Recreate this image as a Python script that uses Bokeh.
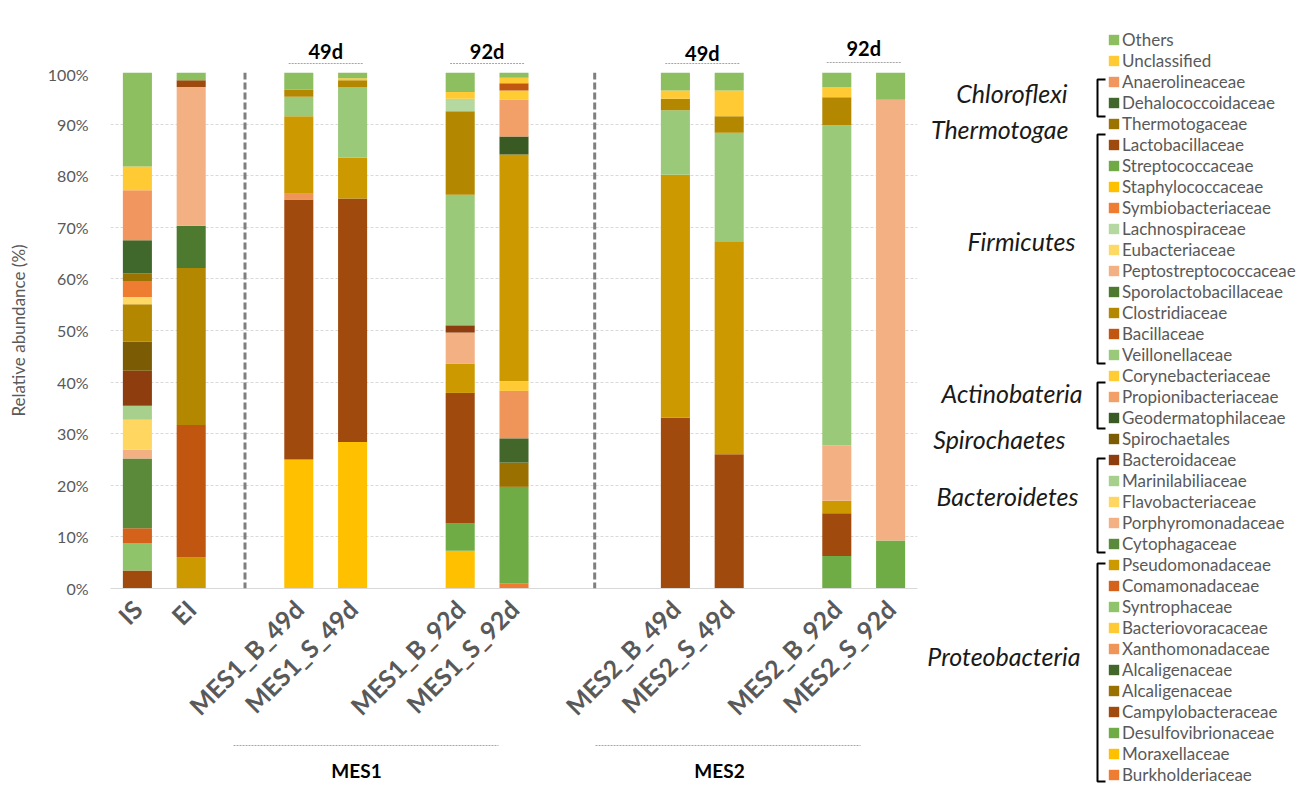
import math
from bokeh.plotting import figure
from bokeh.layouts import row, column
from bokeh.models import (ColumnDataSource, FactorRange, Range1d, FixedTicker, Legend,
                          LegendItem, Span)
from bokeh.core.properties import value
from bokeh.embed import file_html
from bokeh.resources import INLINE

# ---------------- data ----------------
samples = ["IS", "EI", "MES1_B_49d", "MES1_S_49d", "MES1_B_92d", "MES1_S_92d",
           "MES2_B_49d", "MES2_S_49d", "MES2_B_92d", "MES2_S_92d"]

# category slots on the x axis (blank strings are empty spacer slots)
slots = ["IS", "EI", " ", "MES1_B_49d", "MES1_S_49d", "  ", "MES1_B_92d", "MES1_S_92d",
         "   ", "    ", "MES2_B_49d", "MES2_S_49d", "     ", "MES2_B_92d", "MES2_S_92d"]

y_ticks = [0, 10, 20, 30, 40, 50, 60, 70, 80, 90, 100]
y_tick_labels = ["0%", "10%", "20%", "30%", "40%", "50%", "60%", "70%", "80%", "90%", "100%"]

# relative abundance (%) per sample, in the order of `samples`
others                = [18.2, 1.5, 3.3, 1.1, 3.8, 1.0, 3.5, 3.5, 2.8, 5.3]
unclassified          = [4.6, 0, 0, 0.4, 1.3, 1.1, 1.6, 5.0, 2.0, 0]
anaerolineaceae       = [9.7, 0, 0, 0, 0, 0, 0, 0, 0, 0]
dehalococcoidaceae    = [6.4, 0, 0, 0, 0, 0, 0, 0, 0, 0]
thermotogaceae        = [1.5, 0, 0, 0, 0, 0, 0, 0, 0, 0]
lactobacillaceae      = [0, 1.3, 0, 0, 0, 0, 0, 0, 0, 0]
streptococcaceae      = [0, 0, 0, 0, 0, 0, 0, 0, 0, 0]
staphylococcaceae     = [0, 0, 0, 0, 0, 0, 0, 0, 0, 0]
symbiobacteriaceae    = [3.1, 0, 0, 0, 0, 0, 0, 0, 0, 0]
lachnospiraceae       = [0, 0, 0, 0, 2.4, 0, 0, 0, 0, 0]
eubacteriaceae        = [1.4, 0, 0, 0, 0, 0, 0, 0, 0, 0]
peptostreptococcaceae = [0, 26.9, 0, 0, 0, 0, 0, 0, 0, 0]
sporolactobacillaceae = [0, 8.2, 0, 0, 0, 0, 0, 0, 0, 0]
clostridiaceae        = [7.3, 30.4, 1.4, 1.3, 16.2, 0, 2.2, 3.2, 5.4, 0]
bacillaceae           = [0, 25.7, 0, 0, 0, 1.4, 0, 0, 0, 0]
veillonellaceae       = [0, 0, 3.8, 13.7, 25.3, 0, 12.5, 21.0, 62.1, 0]
corynebacteriaceae    = [0, 0, 0, 0, 0, 1.8, 0, 0, 0, 0]
propionibacteriaceae  = [0, 0, 0, 0, 0, 7.1, 0, 0, 0, 0]
geodermatophilaceae   = [0, 0, 0, 0, 0, 3.5, 0, 0, 0, 0]
spirochaetales        = [5.6, 0, 0, 0, 0, 0, 0, 0, 0, 0]
bacteroidaceae        = [6.8, 0, 0, 0, 1.4, 0, 0, 0, 0, 0]
marinilabiliaceae     = [2.7, 0, 0, 0, 0, 0, 0, 0, 0, 0]
flavobacteriaceae     = [5.8, 0, 0, 0, 0, 0, 0, 0, 0, 0]
porphyromonadaceae    = [1.7, 0, 0, 0, 6.0, 0, 0, 0, 10.7, 85.4]
cytophagaceae         = [13.5, 0, 0, 0, 0, 0, 0, 0, 0, 0]
pseudomonadaceae      = [0, 6.0, 15.0, 7.9, 5.7, 43.9, 47.1, 41.3, 2.4, 0]
comamonadaceae        = [2.9, 0, 0, 0, 0, 0, 0, 0, 0, 0]
syntrophaceae         = [5.3, 0, 0, 0, 0, 0, 0, 0, 0, 0]
bacteriovoracaceae    = [0, 0, 0, 0, 0, 1.9, 0, 0, 0, 0]
xanthomonadaceae      = [0, 0, 1.1, 0, 0, 9.2, 0, 0, 0, 0]
alcaligenaceae_a      = [0, 0, 0, 0, 0, 4.7, 0, 0, 0, 0]
alcaligenaceae_b      = [0, 0, 0, 0, 0, 4.7, 0, 0, 0, 0]
campylobacteraceae    = [3.5, 0, 50.4, 47.2, 25.3, 0, 33.1, 26.0, 8.3, 0]
desulfovibrionaceae   = [0, 0, 0, 0, 5.3, 18.7, 0, 0, 6.3, 9.3]
moraxellaceae         = [0, 0, 25.0, 28.4, 7.3, 0, 0, 0, 0, 0]
burkholderiaceae      = [0, 0, 0, 0, 0, 1.0, 0, 0, 0, 0]

# legend order (top to bottom): label, values, colour
families = [
    ("Others", others, "#8DBE5F"),
    ("Unclassified", unclassified, "#FFCA33"),
    ("Anaerolineaceae", anaerolineaceae, "#F0965E"),
    ("Dehalococcoidaceae", dehalococcoidaceae, "#41682C"),
    ("Thermotogaceae", thermotogaceae, "#9C7300"),
    ("Lactobacillaceae", lactobacillaceae, "#9E4A0E"),
    ("Streptococcaceae", streptococcaceae, "#6FAA46"),
    ("Staphylococcaceae", staphylococcaceae, "#FFC000"),
    ("Symbiobacteriaceae", symbiobacteriaceae, "#EE7D32"),
    ("Lachnospiraceae", lachnospiraceae, "#B5D7A0"),
    ("Eubacteriaceae", eubacteriaceae, "#FFD966"),
    ("Peptostreptococcaceae", peptostreptococcaceae, "#F3B183"),
    ("Sporolactobacillaceae", sporolactobacillaceae, "#4E7A30"),
    ("Clostridiaceae", clostridiaceae, "#B38700"),
    ("Bacillaceae", bacillaceae, "#C0560F"),
    ("Veillonellaceae", veillonellaceae, "#9BC97A"),
    ("Corynebacteriaceae", corynebacteriaceae, "#FFCC33"),
    ("Propionibacteriaceae", propionibacteriaceae, "#F2A067"),
    ("Geodermatophilaceae", geodermatophilaceae, "#3A5A24"),
    ("Spirochaetales", spirochaetales, "#7B5C04"),
    ("Bacteroidaceae", bacteroidaceae, "#8E3E0E"),
    ("Marinilabiliaceae", marinilabiliaceae, "#A8D08D"),
    ("Flavobacteriaceae", flavobacteriaceae, "#FFD660"),
    ("Porphyromonadaceae", porphyromonadaceae, "#F2B083"),
    ("Cytophagaceae", cytophagaceae, "#5A8A3A"),
    ("Pseudomonadaceae", pseudomonadaceae, "#CC9900"),
    ("Comamonadaceae", comamonadaceae, "#D4621A"),
    ("Syntrophaceae", syntrophaceae, "#8FC46A"),
    ("Bacteriovoracaceae", bacteriovoracaceae, "#FFCA33"),
    ("Xanthomonadaceae", xanthomonadaceae, "#F0955A"),
    ("Alcaligenaceae", alcaligenaceae_a, "#43672B"),
    ("Alcaligenaceae", alcaligenaceae_b, "#9A7000"),
    ("Campylobacteraceae", campylobacteraceae, "#A04A0E"),
    ("Desulfovibrionaceae", desulfovibrionaceae, "#6FAC46"),
    ("Moraxellaceae", moraxellaceae, "#FFC000"),
    ("Burkholderiaceae", burkholderiaceae, "#EE7D32"),
]

phyla = ["Chloroflexi", "Thermotogae", "Firmicutes", "Actinobateria",
         "Spirochaetes", "Bacteroidetes", "Proteobacteria"]
day_labels = ["49d", "92d", "49d", "92d"]
day_pairs = [("MES1_B_49d", "MES1_S_49d"), ("MES1_B_92d", "MES1_S_92d"),
             ("MES2_B_49d", "MES2_S_49d"), ("MES2_B_92d", "MES2_S_92d")]
group_labels = ["MES1", "MES2"]

# ---------------- layout (page pixels) ----------------
PAGE_W, PAGE_H = 1316, 785
LEFT_W = 925                 # width of the chart column
RIGHT_W = PAGE_W - LEFT_W    # legend column
FRAME_L, FRAME_R = 110, 917
TOP_H = 64                   # strip with the day labels
FRAME_T, FRAME_B = 72, 588
BOTTOM_H = 50                # strip with the group labels
MAIN_H = PAGE_H - TOP_H - BOTTOM_H
SLOT_W = (FRAME_R - FRAME_L) / len(slots)

GREY = "#595959"
FONT = "Lato"

def bare(fig):
    fig.outline_line_color = None
    fig.xgrid.visible = False
    fig.ygrid.visible = False
    fig.background_fill_color = None
    fig.border_fill_color = "white"
    return fig

# ---------------- main chart ----------------
p = figure(width=LEFT_W, height=MAIN_H, x_range=FactorRange(factors=slots),
           y_range=Range1d(0, 100), output_backend="svg", toolbar_location=None,
           min_border_left=FRAME_L, min_border_right=LEFT_W - FRAME_R,
           min_border_top=FRAME_T - TOP_H, min_border_bottom=MAIN_H - (FRAME_B - TOP_H))
p.outline_line_color = None
p.background_fill_color = "white"
p.border_fill_color = "white"

data = {"sample": samples}
keys = []
for i, (name, vals, col) in enumerate(families):
    k = f"f{i}"
    keys.append(k)
    data[k] = vals
source = ColumnDataSource(data)

stack_keys = keys[::-1]
stack_colors = [c for (_, _, c) in families][::-1]
p.vbar_stack(stack_keys, x="sample", width=0.54, color=stack_colors,
             line_color=None, source=source)

p.yaxis.ticker = FixedTicker(ticks=y_ticks)
p.yaxis.major_label_overrides = {t: l for t, l in zip(y_ticks, y_tick_labels)}
p.yaxis.axis_line_color = None
p.yaxis.major_tick_line_color = None
p.yaxis.minor_tick_line_color = None
p.yaxis.major_tick_out = 0
p.yaxis.major_tick_in = 0
p.yaxis.major_label_standoff = 22
p.yaxis.major_label_text_font = FONT
p.yaxis.major_label_text_font_size = "16px"
p.yaxis.major_label_text_color = GREY
p.yaxis.axis_label = "Relative abundance (%)"
p.yaxis.axis_label_text_font = FONT
p.yaxis.axis_label_text_font_size = "17px"
p.yaxis.axis_label_text_font_style = "normal"
p.yaxis.axis_label_text_color = GREY
p.yaxis.axis_label_standoff = 16

p.xaxis.axis_line_color = "#D9D9D9"
p.xaxis.major_tick_line_color = None
p.xaxis.minor_tick_line_color = None
p.xaxis.major_tick_out = 0
p.xaxis.major_tick_in = 0
p.xaxis.major_label_orientation = math.pi / 4
p.xaxis.major_label_standoff = 16
p.xaxis.major_label_text_font = FONT
p.xaxis.major_label_text_font_size = "25px"
p.xaxis.major_label_text_font_style = "bold"
p.xaxis.major_label_text_color = GREY

p.xgrid.grid_line_color = None
p.ygrid.grid_line_color = "#D9D9D9"
p.ygrid.grid_line_dash = "3 2"

for loc in (slots.index(" ") + 0.5, slots.index("    ")):
    p.add_layout(Span(location=loc, dimension="height", line_color="#7F7F7F",
                      line_width=3, line_dash="7 3"))

# ---------------- top strip: day labels ----------------
top = bare(figure(width=LEFT_W, height=TOP_H, x_range=Range1d(FRAME_L, FRAME_R),
                  y_range=Range1d(TOP_H, 0), output_backend="svg", toolbar_location=None,
                  x_axis_location=None, y_axis_location=None,
                  min_border_left=FRAME_L, min_border_right=LEFT_W - FRAME_R,
                  min_border_top=0, min_border_bottom=0))
day_x = [FRAME_L + ((slots.index(a) + slots.index(b)) / 2 + 0.5) * SLOT_W for a, b in day_pairs]
day_text_y = [50, 50, 52, 47]
day_line_y = [63, 63, 63, 62]
top.text(x=day_x, y=day_text_y, text=day_labels, text_align="center", text_baseline="middle",
         text_font=value(FONT), text_font_style="bold", text_font_size="20px", text_color="black")
top.segment(x0=[x - 37 for x in day_x], x1=[x + 38 for x in day_x], y0=day_line_y, y1=day_line_y,
            line_color="#A6A6A6", line_width=1, line_dash="2 1")

# ---------------- bottom strip: group labels ----------------
y0b = TOP_H + MAIN_H
bottom = bare(figure(width=LEFT_W, height=BOTTOM_H, x_range=Range1d(FRAME_L, FRAME_R),
                     y_range=Range1d(PAGE_H, y0b), output_backend="svg", toolbar_location=None,
                     x_axis_location=None, y_axis_location=None,
                     min_border_left=FRAME_L, min_border_right=LEFT_W - FRAME_R,
                     min_border_top=0, min_border_bottom=0))
bottom.segment(x0=[233, 595], x1=[498, 860], y0=[745, 745], y1=[745, 745],
               line_color="#A6A6A6", line_width=1, line_dash="2 1")
bottom.text(x=[356, 719], y=[770, 770], text=group_labels, text_align="center",
            text_baseline="middle", text_font=value(FONT), text_font_style="bold",
            text_font_size="19px", text_color="black")

# ---------------- right column: phyla, brackets and legend ----------------
side = bare(figure(width=RIGHT_W, height=PAGE_H, x_range=Range1d(LEFT_W, PAGE_W),
                   y_range=Range1d(PAGE_H, 0), output_backend="svg", toolbar_location=None,
                   x_axis_location=None, y_axis_location=None,
                   min_border_left=0, min_border_right=0, min_border_top=0, min_border_bottom=0))

phylum_x = [1067, 1068, 1075, 1082, 1065, 1078, 1080]
phylum_y = [92, 128, 240, 392, 438, 495, 655]
side.text(x=phylum_x, y=phylum_y, text=phyla, text_align="right", text_baseline="middle",
          text_font=value(FONT), text_font_style="italic", text_font_size="25px",
          text_color="#1A1A1A")

brackets = [(79, 116), (134, 363), (382, 428), (458, 552), (563, 781)]
side.multi_line(xs=[[1105, 1097, 1097, 1105] for _ in brackets],
                ys=[[t, t, b, b] for t, b in brackets], line_color="black", line_width=2)

# legend swatches: one off-screen, zero-height bar per family so each legend entry gets its colour
items = []
for name, vals, col in families:
    r = side.vbar(x=[0], top=[0], bottom=[0], width=1, color=col, line_color=None)
    items.append(LegendItem(label=name, renderers=[r]))

ROW, SPACING = 21, 0
leg_h = len(items) * ROW + (len(items) - 1) * SPACING
leg_top = 29
legend = Legend(items=items, location=(1107 - LEFT_W, PAGE_H - (leg_top + leg_h)),
                orientation="vertical", glyph_width=13, glyph_height=13,
                label_height=ROW, spacing=SPACING, padding=0, margin=0,
                border_line_color=None, background_fill_alpha=0,
                label_text_font=FONT, label_text_font_size="17px",
                label_text_color=GREY, label_standoff=2)
side.add_layout(legend)

layout = row(column(top, p, bottom), side)
open("out.html", "w").write(file_html(layout, INLINE))
